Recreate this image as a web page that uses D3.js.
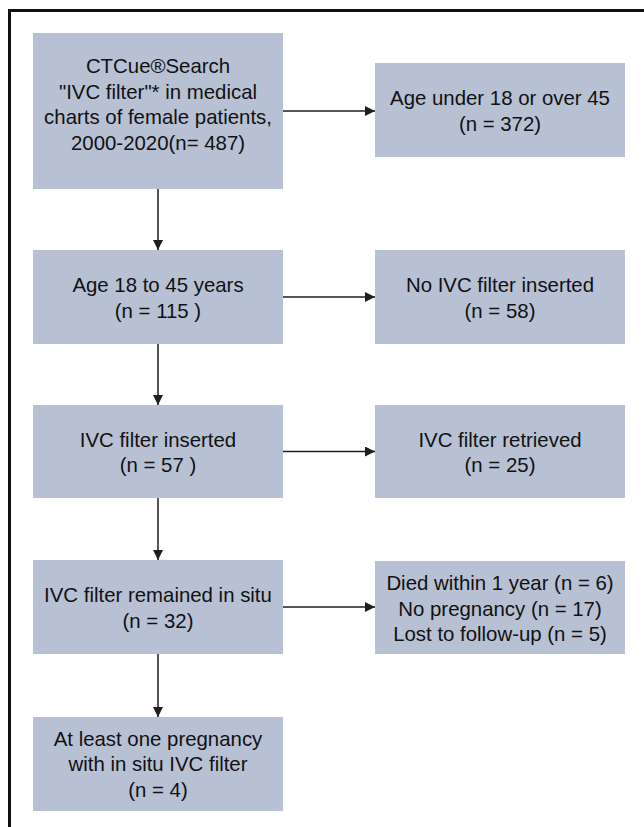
<!DOCTYPE html>
<html>
<head>
<meta charset="utf-8">
<script src="https://cdn.jsdelivr.net/npm/d3@7"></script>
<style>
  html, body { margin: 0; padding: 0; background: #fff; }
  svg { display: block; }
</style>
</head>
<body>
<script>
// ---- data ----
const mainCounts = [487, 115, 57, 32, 4];
const excludedCounts = [372, 58, 25];
const lostCounts = [6, 17, 5];

const mainLines = [
  ["CTCue\u00AESearch", "\"IVC filter\"* in medical", "charts of female patients,", `2000-2020(n= ${mainCounts[0]})`],
  ["Age 18 to 45 years", `(n = ${mainCounts[1]} )`],
  ["IVC filter inserted", `(n = ${mainCounts[2]} )`],
  ["IVC filter remained in situ", `(n = ${mainCounts[3]})`],
  ["At least one pregnancy", "with in situ IVC filter", `(n = ${mainCounts[4]})`]
];
const excludedLines = [
  ["Age under 18 or over 45", `(n = ${excludedCounts[0]})`],
  ["No IVC filter inserted", `(n = ${excludedCounts[1]})`],
  ["IVC filter retrieved", `(n = ${excludedCounts[2]})`],
  [`Died within 1 year (n = ${lostCounts[0]})`, `No pregnancy (n = ${lostCounts[1]})`, `Lost to follow-up (n = ${lostCounts[2]})`]
];

// ---- layout ----
const W = 644, H = 827;
const colX = d3.scaleOrdinal().domain(["main", "excluded"]).range([33, 375]);
const boxW = 250;
const mainY = [[33, 189], [250, 344], [405, 498], [560, 654], [717, 811]];
const excludedY = [[63, 157], [250, 344], [405, 498], [561, 654]];
const mainTextShift = [-7.5, 0, 0, 0, -1];
const excludedTextShift = [0, 0, 0, 0];
const fontSize = 20.4, lineH = 25.5;
const fill = "#b8c1d4", ink = "#111111", lineCol = "#1e1e1e";

const svg = d3.select("body").append("svg").attr("width", W).attr("height", H);

svg.append("defs").append("marker")
  .attr("id", "arr").attr("viewBox", "0 0 10 10")
  .attr("refX", 10).attr("refY", 5)
  .attr("markerUnits", "userSpaceOnUse")
  .attr("markerWidth", 10).attr("markerHeight", 10)
  .attr("orient", "auto")
  .append("path").attr("d", "M0,0L10,5L0,10Z").attr("fill", lineCol);

// frame
svg.append("path")
  .attr("d", `M9.5,${H}L9.5,10.5L${W},10.5`)
  .attr("fill", "none").attr("stroke", "#111").attr("stroke-width", 3);

function drawBox(g, x, y0, y1, lines, shift) {
  g.append("rect").attr("x", x).attr("y", y0).attr("width", boxW).attr("height", y1 - y0).attr("fill", fill);
  const cy = (y0 + y1) / 2;
  const first = cy + 8.2 + shift - (lines.length - 1) * lineH / 2;
  const t = g.append("text")
    .attr("text-anchor", "middle")
    .attr("font-family", "'Liberation Sans', Arial, Helvetica, sans-serif")
    .attr("font-size", fontSize)
    .attr("fill", ink);
  lines.forEach((s, i) => {
    t.append("tspan").attr("x", x + boxW / 2).attr("y", first + i * lineH).text(s);
  });
}

const gBoxes = svg.append("g");
mainLines.forEach((lines, i) => drawBox(gBoxes, colX("main"), mainY[i][0], mainY[i][1], lines, mainTextShift[i]));
excludedLines.forEach((lines, i) => drawBox(gBoxes, colX("excluded"), excludedY[i][0], excludedY[i][1], lines, excludedTextShift[i]));

// arrows
const gA = svg.append("g").attr("stroke", lineCol).attr("stroke-width", 1.5).attr("fill", "none");
const cx = colX("main") + boxW / 2;
for (let i = 0; i < mainLines.length - 1; i++) {
  gA.append("line").attr("x1", cx).attr("x2", cx)
    .attr("y1", mainY[i][1]).attr("y2", mainY[i + 1][0])
    .attr("marker-end", "url(#arr)");
}
excludedLines.forEach((_, i) => {
  const y = (mainY[i][0] + mainY[i][1]) / 2;
  gA.append("line").attr("x1", colX("main") + boxW).attr("x2", colX("excluded"))
    .attr("y1", y).attr("y2", y)
    .attr("marker-end", "url(#arr)");
});
</script>
</body>
</html>
